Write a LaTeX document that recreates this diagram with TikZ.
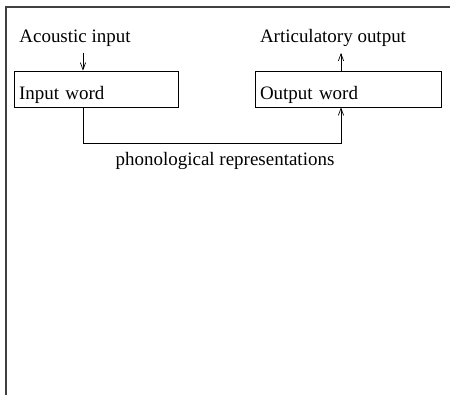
\documentclass[tikz,border=0pt]{standalone}
\usepackage{fontspec}
\setmainfont{Liberation Serif}
\usepackage{tikz}
\usetikzlibrary{arrows.meta}

\begin{document}
\begin{tikzpicture}[every node/.style={font=\fontsize{10.8}{13}\selectfont}, wordbox/.style={rectangle, draw=black, inner xsep=0.1cm, inner ysep=0.08cm, text height=0.48cm, text depth=0.08cm, minimum height=0.72cm, align=left}, >={Straight Barb[length=4pt,width=3pt]}]
			\useasboundingbox (0,0) rectangle (9,7.9);
			\draw[line width=0.8pt, black!75] (0.12,0) -- (0.12,7.76) -- (9,7.76);
			
			\node[wordbox, text width=3.08cm] (in) at (1.92,6.12){Input word};
			\node[wordbox, text width=3.52cm] (out) at (6.96,6.12){Output word};
			
			\node (acoustic) at (1.5,7.14){Acoustic input};
			\node (artic) at (6.66,7.14){Articulatory output};
			\node (phono) at (4.5,4.68){phonological representations};
			
			\coordinate (inx) at (1.66,0);
			\coordinate (outx) at (6.82,0);
			\coordinate (low) at (0,5.04);
			
			\draw[->] (acoustic.south -| inx) -- (in.north -| inx);
			\draw[->] (out.north -| outx) -- (artic.south -| outx);
			\draw[->] (in.south -| inx) -- (low -| inx) -- (low -| outx) -- (out.south -| outx);
			\end{tikzpicture}
\end{document}
